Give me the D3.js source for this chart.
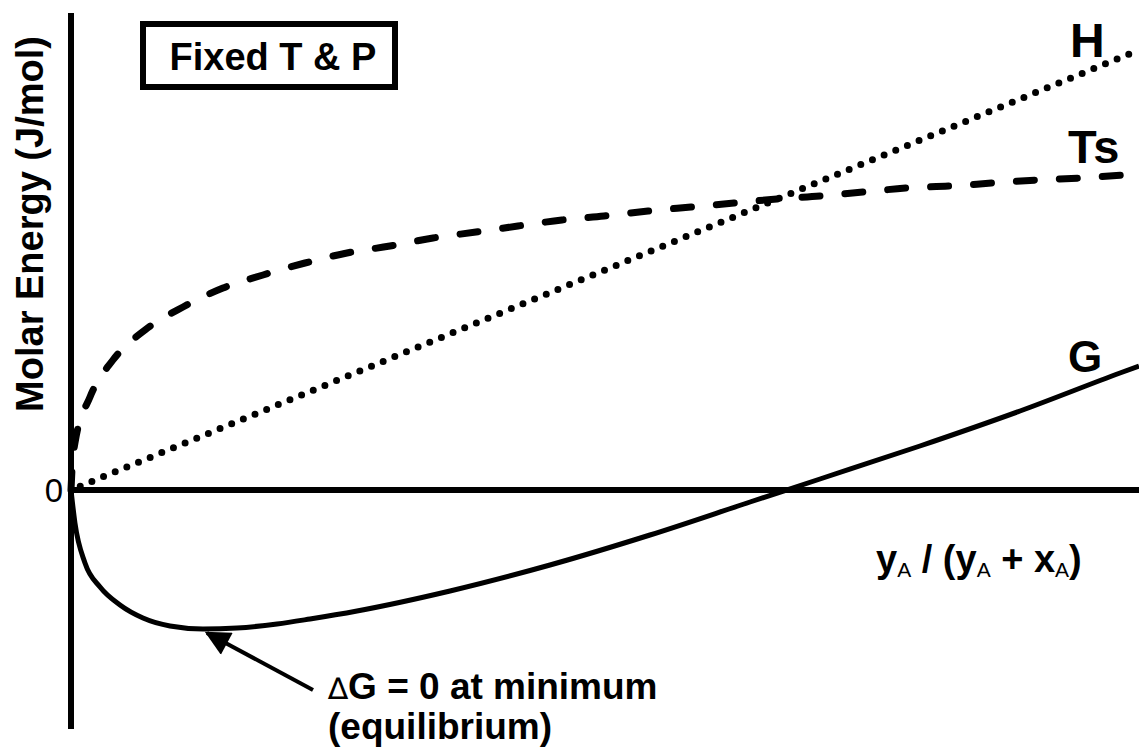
<!DOCTYPE html>
<html>
<head>
<meta charset="utf-8">
<script src="https://cdn.jsdelivr.net/npm/d3@7"></script>
<style>
  html, body { margin: 0; padding: 0; background: #fff; }
  svg { display: block; }
  text { font-family: "Liberation Sans", Arial, Helvetica, sans-serif; fill: #000; }
</style>
</head>
<body>
<svg id="chart" width="1139" height="751"></svg>
<script>
// ---- data (x = y_A/(y_A+x_A), y = molar energy, arbitrary units) ----
const gX  = [0, 0.0037, 0.0131, 0.0272, 0.0459, 0.0674, 0.0927, 0.1236, 0.1554, 0.1929, 0.2238, 0.2678, 0.3549, 0.4485, 0.5421, 0.6358, 0.7013, 0.7949, 0.8886, 0.9822, 1];
const gY  = [0, -0.33, -0.73, -0.97, -1.15, -1.28, -1.36, -1.39, -1.38, -1.34, -1.29, -1.21, -1.01, -0.75, -0.45, -0.12, 0.11, 0.44, 0.79, 1.17, 1.24];

const tsX = [0, 0.0009, 0.0037, 0.0178, 0.0393, 0.0693, 0.1049, 0.1423, 0.1798, 0.2191, 0.2584, 0.2987, 0.3390, 0.3792, 0.4185, 0.4597, 0.4991, 0.5403, 0.5805, 0.6208, 0.6610, 0.7013, 0.7416, 0.7828, 0.8230, 0.8633, 0.9045, 0.9448, 0.9869, 1];
const tsY = [0, 0.20, 0.47, 0.93, 1.30, 1.60, 1.83, 2.02, 2.15, 2.27, 2.37, 2.44, 2.52, 2.58, 2.64, 2.70, 2.74, 2.79, 2.83, 2.87, 2.91, 2.94, 2.98, 3.02, 3.04, 3.07, 3.10, 3.12, 3.15, 3.16];

const hX  = [0, 0.5, 1];
const hY  = [0, 2.2, 4.4];

const seriesLabels = ["H", "Ts", "G"];
const yTickLabels = ["0"];
const boxLabel = "Fixed T & P";
const yAxisTitle = "Molar Energy (J/mol)";
const annotLine1 = "G = 0 at minimum";
const annotLine2 = "(equilibrium)";
// arrow annotation: tip near the G minimum, tail near the text (data units)
const arrowTip  = [0.1273, -1.43];
const arrowTail = [0.2266, -2.0];

// ---- layout ----
const svg = d3.select("#chart");
const x = d3.scaleLinear().domain([0, 1]).range([71, 1139]);
const y = d3.scaleLinear().domain([-2.39, 4.77]).range([729, 13]);

const zip = (xs, ys) => xs.map((v, i) => [v, ys[i]]);
const line = d3.line().x(d => x(d[0])).y(d => y(d[1])).curve(d3.curveMonotoneX);

// axes
const xAxis = d3.axisBottom(x).tickValues([]).tickSizeOuter(0);
const xg = svg.append("g").attr("transform", `translate(0,${y(0)})`).call(xAxis);
xg.select(".domain").attr("stroke", "#000").attr("stroke-width", 6).attr("d", `M${x(0)},0H${x(1)}`);

const yAxis = d3.axisLeft(y).tickValues([]).tickSizeOuter(0);
const yg = svg.append("g").attr("transform", `translate(${x(0)},0)`).call(yAxis);
yg.select(".domain").attr("stroke", "#000").attr("stroke-width", 6).attr("d", `M0,${y(-2.39)}V${y(4.77)}`);

// zero tick label
svg.append("text").attr("x", 63).attr("y", y(0) + 12)
  .attr("text-anchor", "end").attr("font-size", 33).text(yTickLabels[0]);

// curves
svg.append("path").datum(zip(hX, hY)).attr("d", line)
  .attr("fill", "none").attr("stroke", "#000").attr("stroke-width", 7)
  .attr("stroke-linecap", "round").attr("stroke-dasharray", "0,12.6")
  .attr("stroke-dashoffset", -10);

svg.append("path").datum(zip(tsX, tsY)).attr("d", line)
  .attr("fill", "none").attr("stroke", "#000").attr("stroke-width", 7)
  .attr("stroke-linecap", "round").attr("stroke-dasharray", "18,25");

svg.append("path").datum(zip(gX, gY)).attr("d", line)
  .attr("fill", "none").attr("stroke", "#000").attr("stroke-width", 5);

// series labels
svg.append("text").attr("x", 1070).attr("y", 57).attr("font-size", 48).attr("font-weight", "bold").text(seriesLabels[0]);
svg.append("text").attr("x", 1068).attr("y", 163).attr("font-size", 47).attr("font-weight", "bold").text(seriesLabels[1]);
svg.append("text").attr("x", 1068).attr("y", 372).attr("font-size", 44).attr("font-weight", "bold").text(seriesLabels[2]);

// box
svg.append("rect").attr("x", 143).attr("y", 24).attr("width", 252).attr("height", 63)
  .attr("fill", "none").attr("stroke", "#000").attr("stroke-width", 6);
svg.append("text").attr("x", 273).attr("y", 70).attr("text-anchor", "middle")
  .attr("font-size", 38).attr("font-weight", "bold").text(boxLabel);

// y axis title
svg.append("text").attr("transform", "translate(43,224) rotate(-90)")
  .attr("text-anchor", "middle").attr("font-size", 38).attr("font-weight", "bold").text(yAxisTitle);

// x axis title  y_A / (y_A + x_A)
const xt = svg.append("text").attr("x", 876).attr("y", 572).attr("font-size", 38).attr("font-weight", "bold");
const sub = (t) => xt.append("tspan").attr("font-size", 21).attr("font-weight", "normal").attr("dy", 5).text(t);
const main = (t) => xt.append("tspan").attr("dy", -5).text(t);
xt.append("tspan").text("y");
sub("A");
main(" / (y");
sub("A");
main(" + x");
sub("A");
main(")");

// annotation text
const a1 = svg.append("text").attr("x", 328).attr("y", 699).attr("font-size", 37).attr("font-weight", "bold");
a1.append("tspan").attr("font-weight", "normal").attr("font-family", "DejaVu Sans").attr("font-size", 30).text("\u2206");
a1.append("tspan").text(annotLine1);
svg.append("text").attr("x", 328).attr("y", 739).attr("font-size", 37).attr("font-weight", "bold").text(annotLine2);

// arrow
const defs = svg.append("defs");
defs.append("marker").attr("id", "ah").attr("viewBox", "0 0 10 10")
  .attr("refX", 9).attr("refY", 5).attr("markerUnits", "userSpaceOnUse")
  .attr("markerWidth", 27).attr("markerHeight", 25).attr("orient", "auto")
  .append("path").attr("d", "M0,0L10,5L0,10Z").attr("fill", "#000");
svg.append("line")
  .attr("x1", x(arrowTail[0])).attr("y1", y(arrowTail[1]))
  .attr("x2", x(arrowTip[0])).attr("y2", y(arrowTip[1]))
  .attr("stroke", "#000").attr("stroke-width", 4).attr("marker-end", "url(#ah)");
</script>
</body>
</html>
